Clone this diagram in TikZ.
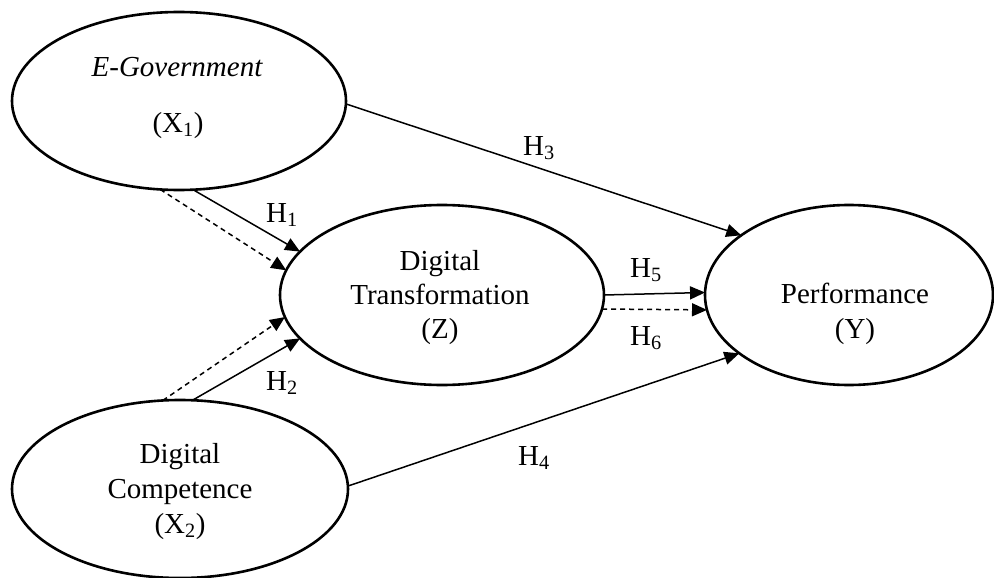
\documentclass[tikz,border=0pt]{standalone}
\usepackage{fontspec}
\setmainfont{Liberation Serif}
\usetikzlibrary{shapes.geometric,arrows.meta}
\begin{document}
\begin{tikzpicture}[x=1pt,y=-1pt,
  ell/.style={draw, ellipse, line width=2.6pt, inner sep=0pt, outer sep=0pt},
  txt/.style={anchor=base, inner sep=0pt, font=\fontsize{29}{34}\selectfont},
  arr/.style={-{Triangle[length=15pt,width=13pt]}, line width=1.5pt},
  dsh/.style={arr, dash pattern=on 5pt off 4pt}]
\useasboundingbox (0,0) rectangle (994,578);
\node[ell, minimum width=334pt, minimum height=178pt] (x1) at (179,101) {};
\node[ell, minimum width=336pt, minimum height=178pt] (x2) at (180,489) {};
\node[ell, minimum width=324pt, minimum height=180pt] (z) at (442,295) {};
\node[ell, minimum width=288pt, minimum height=180pt] (y) at (849,295) {};
% texts
\node[txt] (t1) at (177,77) {\itshape E-Government};
\node[txt] (t2) at (178,132) {(X\textsubscript{1})};
\node[txt] (t3) at (180,463) {Digital};
\node[txt] (t4) at (180,498) {Competence};
\node[txt] (t5) at (180,533) {(X\textsubscript{2})};
\node[txt] (t6) at (440,270) {Digital};
\node[txt] (t7) at (440,304) {Transformation};
\node[txt] (t8) at (440,338) {(Z)};
\node[txt] (t9) at (855,303) {Performance};
\node[txt] (t10) at (855,338) {(Y)};
% connectors
\draw[arr] (x1.-1) -- (y.151.8);
\draw[arr] (x1.-81) -- (z.163.7);
\draw[dsh] (x1.-102) -- (z.171.8);
\draw[dsh] (x2.101) -- (z.-172.2);
\draw[arr] (x2.82) -- (z.-163.5);
\draw[arr] (z.0.8) -- (y.179);
\draw[dsh] (z.-5.4) -- (y.-174);
\draw[arr] (x2.1.4) -- (y.-152.6);
% labels
\node[txt] (h1) at (282,222) {H\textsubscript{1}};
\node[txt] (h2) at (282,390) {H\textsubscript{2}};
\node[txt] (h3) at (539,155) {H\textsubscript{3}};
\node[txt] (h4) at (534,465) {H\textsubscript{4}};
\node[txt] (h5) at (646,277) {H\textsubscript{5}};
\node[txt] (h6) at (646,345) {H\textsubscript{6}};
\end{tikzpicture}
\end{document}
